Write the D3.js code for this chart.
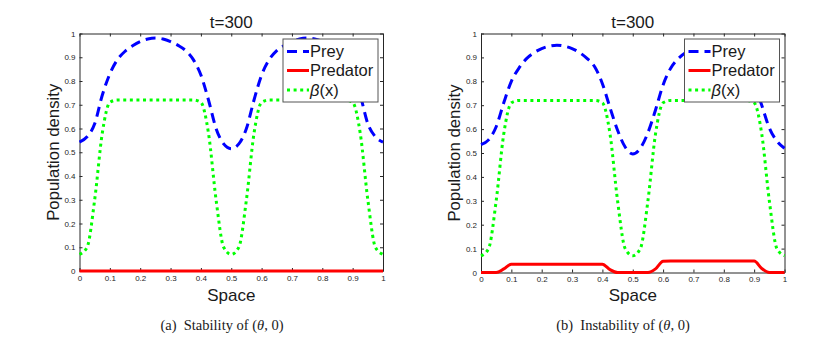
<!DOCTYPE html>
<html>
<head>
<meta charset="utf-8">
<script src="https://cdn.jsdelivr.net/npm/d3@7"></script>
<style>
  html, body { margin: 0; padding: 0; background: #fff; }
  svg { display: block; font-family: Arial, "Liberation Sans", sans-serif; }
</style>
</head>
<body>
<svg id="chart" width="828" height="339"></svg>
<script>
// grid of space points, 0..1
var xs = [0, 0.025, 0.05, 0.075, 0.1, 0.125, 0.15, 0.175, 0.2, 0.225,
  0.25, 0.275, 0.3, 0.325, 0.35, 0.375, 0.4, 0.425, 0.45, 0.475,
  0.5, 0.525, 0.55, 0.575, 0.6, 0.625, 0.65, 0.675, 0.7, 0.725,
  0.75, 0.775, 0.8, 0.825, 0.85, 0.875, 0.9, 0.925, 0.95, 0.975, 1];

var beta = [0.07, 0.10, 0.30, 0.58, 0.71, 0.72, 0.72, 0.72, 0.72, 0.72,
  0.72, 0.72, 0.72, 0.72, 0.72, 0.72, 0.71, 0.58, 0.30, 0.10,
  0.07, 0.10, 0.30, 0.58, 0.71, 0.72, 0.72, 0.72, 0.72, 0.72,
  0.72, 0.72, 0.72, 0.72, 0.72, 0.72, 0.71, 0.58, 0.30, 0.10, 0.07];

// (a) stability
var preyA = [0.543, 0.565, 0.62, 0.74, 0.83, 0.89, 0.925, 0.948, 0.966, 0.977,
  0.981, 0.977, 0.966, 0.95, 0.928, 0.89, 0.825, 0.72, 0.60, 0.535,
  0.515, 0.535, 0.60, 0.72, 0.825, 0.89, 0.928, 0.95, 0.966, 0.977,
  0.981, 0.977, 0.966, 0.948, 0.925, 0.89, 0.83, 0.74, 0.62, 0.565, 0.543];
var predA = [0, 0, 0, 0, 0, 0, 0, 0, 0, 0,
  0, 0, 0, 0, 0, 0, 0, 0, 0, 0,
  0, 0, 0, 0, 0, 0, 0, 0, 0, 0,
  0, 0, 0, 0, 0, 0, 0, 0, 0, 0, 0];

// (b) instability
var preyB = [0.535, 0.555, 0.61, 0.71, 0.80, 0.855, 0.895, 0.92, 0.937, 0.947,
  0.951, 0.947, 0.937, 0.92, 0.895, 0.86, 0.79, 0.69, 0.595, 0.525,
  0.496, 0.52, 0.585, 0.68, 0.785, 0.855, 0.895, 0.92, 0.937, 0.947,
  0.95, 0.947, 0.937, 0.92, 0.895, 0.86, 0.79, 0.70, 0.605, 0.55, 0.52];
var predB = [0, 0, 0, 0.015, 0.035, 0.035, 0.035, 0.035, 0.035, 0.035,
  0.035, 0.035, 0.035, 0.035, 0.035, 0.035, 0.035, 0.012, 0, 0,
  0, 0, 0, 0.015, 0.047, 0.048, 0.048, 0.048, 0.048, 0.048,
  0.048, 0.048, 0.048, 0.048, 0.048, 0.048, 0.048, 0.017, 0, 0, 0];

var tickVals = [0, 0.1, 0.2, 0.3, 0.4, 0.5, 0.6, 0.7, 0.8, 0.9, 1];
var tickLabels = ['0', '0.1', '0.2', '0.3', '0.4', '0.5', '0.6', '0.7', '0.8', '0.9', '1'];
var legendNames = ['Prey', 'Predator', 'β(x)'];

var svg = d3.select('#chart');

function drawPanel(opt) {
  var x = d3.scaleLinear().domain([0, 1]).range([opt.left, opt.right]);
  var y = d3.scaleLinear().domain([0, 1]).range([opt.bottom, opt.top]);
  var g = svg.append('g');
  var fmt = function(d, i) { return tickLabels[i]; };

  // axes, matlab style: ticks inside on all four sides
  g.append('g').attr('transform', 'translate(0,' + opt.bottom + ')')
    .call(d3.axisBottom(x).tickValues(tickVals).tickFormat(fmt).tickSizeInner(-3).tickSizeOuter(0).tickPadding(4));
  g.append('g').attr('transform', 'translate(' + opt.left + ',0)')
    .call(d3.axisLeft(y).tickValues(tickVals).tickFormat(fmt).tickSizeInner(-3).tickSizeOuter(0).tickPadding(4));
  g.append('g').attr('transform', 'translate(0,' + opt.top + ')')
    .call(d3.axisTop(x).tickValues(tickVals).tickFormat('').tickSizeInner(-3).tickSizeOuter(0));
  g.append('g').attr('transform', 'translate(' + opt.right + ',0)')
    .call(d3.axisRight(y).tickValues(tickVals).tickFormat('').tickSizeInner(-3).tickSizeOuter(0));
  g.selectAll('.domain').attr('stroke', '#262626').attr('stroke-width', 1);
  g.selectAll('.tick line').attr('stroke', '#262626');
  g.selectAll('.tick text').attr('font-size', 8).attr('fill', '#262626')
    .attr('font-family', 'Arial, "Liberation Sans", sans-serif');

  var line = function(vals) {
    return d3.line().x(function(d, i) { return x(xs[i]); })
      .y(function(d) { return y(d); })
      .curve(d3.curveMonotoneX)(vals);
  };

  g.append('path').attr('d', line(opt.prey)).attr('fill', 'none')
    .attr('stroke', '#0000ff').attr('stroke-width', 3).attr('stroke-dasharray', '10,6');
  g.append('path').attr('d', line(opt.pred)).attr('fill', 'none')
    .attr('stroke', '#ff0000').attr('stroke-width', 3);
  g.append('path').attr('d', line(beta)).attr('fill', 'none')
    .attr('stroke', '#00ff00').attr('stroke-width', 3).attr('stroke-dasharray', '3,3.6');

  var cx = (opt.left + opt.right) / 2;
  g.append('text').attr('x', cx).attr('y', 28).attr('text-anchor', 'middle')
    .attr('font-size', 17).attr('fill', '#1a1a1a').text('t=300');
  g.append('text').attr('x', cx).attr('y', 301).attr('text-anchor', 'middle')
    .attr('font-size', 17).attr('fill', '#1a1a1a').text('Space');
  g.append('text').attr('transform', 'translate(' + (opt.left - 21) + ',' + ((opt.top + opt.bottom) / 2) + ') rotate(-90)')
    .attr('text-anchor', 'middle').attr('font-size', 16.8).attr('fill', '#1a1a1a').text('Population density');

  // legend
  var lx = opt.right - 100, ly = 39;
  var lg = g.append('g');
  lg.append('rect').attr('x', lx).attr('y', ly).attr('width', 95).attr('height', 63)
    .attr('fill', '#fff').attr('stroke', '#555').attr('stroke-width', 1);
  var rows = [
    {c: '#0000ff', dash: '10,6', yy: 51.5},
    {c: '#ff0000', dash: null, yy: 70.5},
    {c: '#00ff00', dash: '3,3.6', yy: 90}
  ];
  rows.forEach(function(r, i) {
    lg.append('line').attr('x1', lx + 4).attr('x2', lx + 26).attr('y1', r.yy).attr('y2', r.yy)
      .attr('stroke', r.c).attr('stroke-width', 3).attr('stroke-dasharray', r.dash);
    var t = lg.append('text').attr('x', lx + 27).attr('y', r.yy + 5.5)
      .attr('font-size', 16.5).attr('fill', '#1a1a1a');
    if (i === 2) {
      t.append('tspan').attr('font-style', 'italic').text(legendNames[i].slice(0, 1));
      t.append('tspan').text(legendNames[i].slice(1));
    } else {
      t.text(legendNames[i]);
    }
  });

  // caption
  var cap = g.append('text').attr('x', opt.capX).attr('y', 330).attr('text-anchor', 'middle')
    .attr('font-family', '"Liberation Serif", "Times New Roman", serif').attr('font-size', 14.5).attr('fill', '#1a1a1a');
  cap.append('tspan').text(opt.capLabel + '\u2002' + opt.capText + ' (');
  cap.append('tspan').attr('font-style', 'italic').text('θ');
  cap.append('tspan').text(', 0)');
}

drawPanel({left: 79.5, right: 383, top: 33.5, bottom: 271, prey: preyA, pred: predA,
  capX: 222, capLabel: '(a)', capText: 'Stability of'});
drawPanel({left: 481, right: 784.5, top: 33.5, bottom: 272.5, prey: preyB, pred: predB,
  capX: 623, capLabel: '(b)', capText: 'Instability of'});
</script>
</body>
</html>
